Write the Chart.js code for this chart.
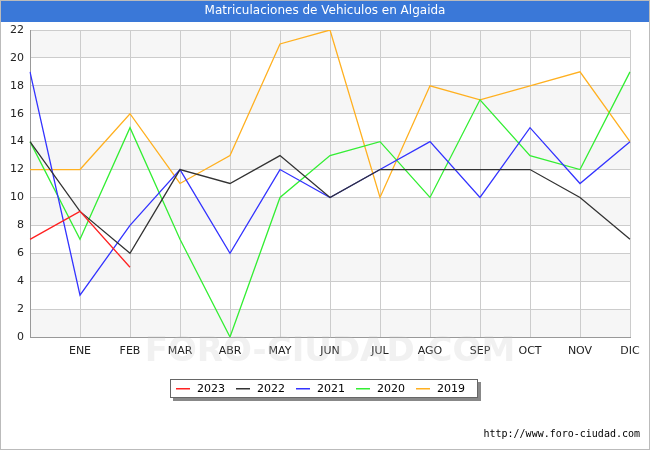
<!DOCTYPE html>
<html>
<head>
<meta charset="utf-8">
<script src="https://cdn.jsdelivr.net/npm/chart.js@4"></script>
<style>
  body { margin: 0; background: #fff; }
  #wrap { width: 650px; height: 450px; position: relative; }
</style>
</head>
<body>
<div id="wrap"><canvas id="c" width="650" height="450"></canvas></div>
<script>
const labels = ['', 'ENE', 'FEB', 'MAR', 'ABR', 'MAY', 'JUN', 'JUL', 'AGO', 'SEP', 'OCT', 'NOV', 'DIC'];
const years = ['2023', '2022', '2021', '2020', '2019'];
const colors = ['#ff2222', '#333333', '#3333ff', '#33ee33', '#ffb020'];
const v2023 = [7, 9, 5];
const v2022 = [14, 9, 6, 12, 11, 13, 10, 12, 12, 12, 12, 10, 7];
const v2021 = [19, 3, 8, 12, 6, 12, 10, 12, 14, 10, 15, 11, 14];
const v2020 = [14, 7, 15, 7, 0, 10, 13, 14, 10, 17, 13, 12, 19];
const v2019 = [12, 12, 16, 11, 13, 21, 22, 10, 18, 17, 18, 19, 14];
const series = [v2023, v2022, v2021, v2020, v2019];
const FONT = '11px "DejaVu Sans", sans-serif';

const decor = {
  id: 'decor',
  beforeDraw(chart) {
    const { ctx, chartArea: a, scales: { y } } = chart;
    ctx.save();
    ctx.fillStyle = '#f6f6f6';
    for (let lo = 0; lo < 22; lo += 4) {
      const top = y.getPixelForValue(lo + 2), bot = y.getPixelForValue(lo);
      ctx.fillRect(a.left, top, a.right - a.left, bot - top);
    }
    ctx.restore();
  },
  afterDraw(chart) {
    const { ctx } = chart;
    ctx.save();
    ctx.fillStyle = '#3a78d8';
    ctx.fillRect(0, 0, 650, 22);
    ctx.fillStyle = '#fff';
    ctx.font = '12px "DejaVu Sans", sans-serif';
    ctx.textAlign = 'center';
    ctx.textBaseline = 'middle';
    ctx.fillText('Matriculaciones de Vehiculos en Algaida', 325, 11);
    ctx.fillStyle = 'rgba(200,200,200,0.25)';
    ctx.font = 'bold 34px "DejaVu Sans", sans-serif';
    ctx.fillText('FORO-CIUDAD.COM', 330, 352);
    // legend
    ctx.fillStyle = '#888';
    ctx.fillRect(173, 382, 308, 19);
    ctx.fillStyle = '#fff';
    ctx.fillRect(170, 379, 308, 19);
    ctx.strokeStyle = '#666';
    ctx.lineWidth = 1;
    ctx.strokeRect(170.5, 379.5, 307, 18);
    ctx.font = FONT;
    ctx.textAlign = 'left';
    years.forEach((yr, i) => {
      const x = 176 + i * 60;
      ctx.fillStyle = colors[i];
      ctx.fillRect(x, 388, 14, 1.5);
      ctx.fillStyle = '#000';
      ctx.fillText(yr, x + 21, 389);
    });
    ctx.font = '10px "DejaVu Sans Mono", monospace';
    ctx.textAlign = 'right';
    ctx.fillStyle = '#000';
    ctx.fillText('http://www.foro-ciudad.com', 640, 434);
    ctx.strokeStyle = '#bbb';
    ctx.strokeRect(0.5, 0.5, 649, 449);
    ctx.restore();
  }
};

new Chart(document.getElementById('c'), {
  type: 'line',
  data: {
    labels,
    datasets: years.map((yr, i) => ({
      label: yr,
      data: series[i],
      borderColor: colors[i],
      backgroundColor: colors[i],
      borderWidth: 1.3,
      pointRadius: 0,
      tension: 0
    }))
  },
  options: {
    responsive: false,
    animation: false,
    layout: { padding: { top: 30, right: 20, left: 0, bottom: 0 } },
    plugins: { legend: { display: false }, tooltip: { enabled: false } },
    scales: {
      x: {
        offset: false,
        grid: { color: '#cccccc', drawTicks: false },
        border: { color: '#999' },
        ticks: { font: { family: 'DejaVu Sans', size: 11 }, color: '#222', padding: 8, maxRotation: 0, autoSkip: false },
        afterFit(s) { s.height = 113; }
      },
      y: {
        min: 0, max: 22,
        grid: { color: '#cccccc', drawTicks: false },
        border: { color: '#999' },
        ticks: { stepSize: 2, font: { family: 'DejaVu Sans', size: 11 }, color: '#222', padding: 6 },
        afterFit(s) { s.width = 30; }
      }
    }
  },
  plugins: [decor]
});
</script>
</body>
</html>
